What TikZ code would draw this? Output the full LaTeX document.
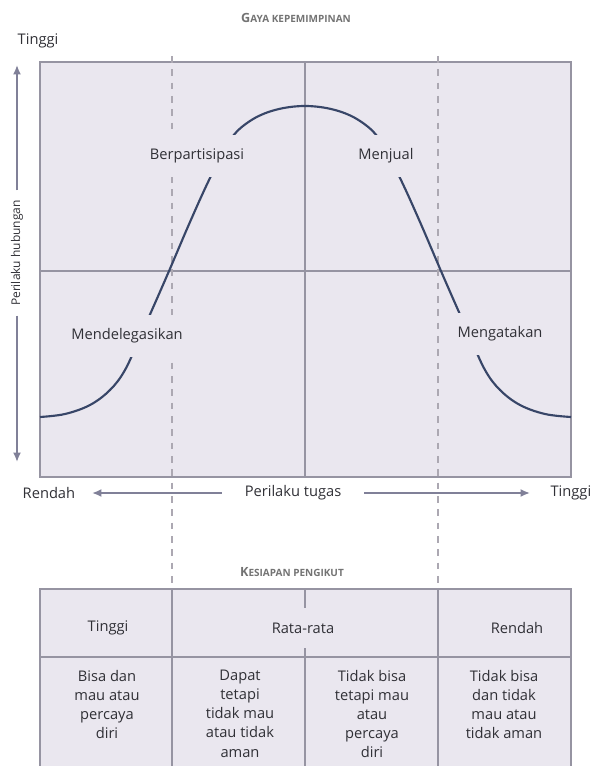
\documentclass[tikz,border=0pt]{standalone}
\usepackage{fontspec}
\setmainfont{Open Sans}
\usetikzlibrary{arrows.meta}
\definecolor{panelfill}{RGB}{234,231,239}
\definecolor{gridgray}{RGB}{150,148,162}
\definecolor{dashgray}{RGB}{172,168,178}
\definecolor{curveblue}{RGB}{56,70,104}
\definecolor{axisgray}{RGB}{128,128,152}
\definecolor{txtgray}{RGB}{48,48,54}

\begin{document}
\begin{tikzpicture}[x=0.75pt,y=-0.75pt,
  font=\fontsize{11}{14.3}\selectfont,text=txtgray,
  panel/.style={draw=gridgray,line width=1.1pt,fill=panelfill},
  grid/.style={draw=gridgray,line width=0.9pt},
  guide/.style={draw=dashgray,line width=1.1pt,dash pattern=on 5pt off 5pt},
  bell/.style={draw=curveblue,line width=1.6pt},
  arr/.style={-{Latex[length=7pt,width=6pt]},draw=axisgray,line width=1.5pt},
  stylelbl/.style={fill=panelfill,minimum height=31pt,inner xsep=1pt},
  cell/.style={align=center,anchor=north,inner sep=0pt},
  smcap/.style={font=\fontsize{9.5}{10}\selectfont\bfseries,text=gray!90!black}]
  \useasboundingbox (0,0) rectangle (593,766);
  %% upper panel
  \draw[panel] (40,62) rectangle (571,477);
  \draw[grid] (305,62) -- (305,477);
  \draw[grid] (40,271) -- (571,271);
  \draw[guide] (172,56) -- (172,589);
  \draw[guide] (438,56) -- (438,589);
  \draw[bell] plot[smooth,tension=0.6] coordinates {(40,417) (65,414) (90,405)
    (110,390) (125,370) (140,337) (166,278) (190,222) (210,178) (230,140)
    (250,121) (275,110) (305,106) (335,110) (360,121) (380,140) (400,178)
    (420,222) (444,278) (470,337) (485,370) (500,390) (520,405) (545,414)
    (571,417)};
  \node[stylelbl](par) at (197,156){Berpartisipasi};
  \node[stylelbl](sel) at (386,156){Menjual};
  \node[stylelbl](del) at (127,336){Mendelegasikan};
  \node[stylelbl](tel) at (500,334){Mengatakan};
  \node[smcap](gaya) at (296,18){G{\fontsize{7.5}{8}\selectfont AYA KEPEMIMPINAN}};
  %% axes
  \node(yhi) at (38,41){Tinggi};
  \node[rotate=90,font=\fontsize{9}{10}\selectfont,inner xsep=7pt](yname) at (17,253){Perilaku hubungan};
  \coordinate(ytop) at (17,65);
  \coordinate(ybot) at (17,462);
  \draw[arr](yname.east)--(ytop);
  \draw[arr](yname.west)--(ybot);
  \node[anchor=west](xlo) at (18,493){Rendah};
  \node[outer xsep=14pt](xname) at (293,493){Perilaku tugas};
  \node[anchor=west,inner xsep=1pt](xhi) at (549,493){Tinggi};
  \coordinate(xleft) at (92,493);
  \coordinate(xright) at (530,493);
  \draw[arr](xname.west)--(xleft);
  \draw[arr](xname.east)--(xright);
  %% readiness table
  \node[smcap](kes) at (292,572){K{\fontsize{7.5}{8}\selectfont ESIAPAN PENGIKUT}};
  \draw[panel] (40,589) rectangle (571,772);
  \draw[grid] (40,657) -- (571,657);
  \draw[grid] (172,589) -- (172,772);
  \draw[grid] (305,589) -- (305,772);
  \draw[grid] (438,589) -- (438,772);
  \node(thi) at (108,628){Tinggi};
  \node[fill=panelfill,minimum height=30pt](tavg) at (303,628){Rata-rata};
  \node(tlo) at (517,628){Rendah};
  \node[cell](c1) at (107,670){Bisa dan\\mau atau\\percaya\\diri};
  \node[cell](c2) at (240,670){Dapat\\tetapi\\tidak mau\\atau tidak\\aman};
  \node[cell](c3) at (372,670){Tidak bisa\\tetapi mau\\atau\\percaya\\diri};
  \node[cell](c4) at (504,670){Tidak bisa\\dan tidak\\mau atau\\tidak aman};
\end{tikzpicture}
\end{document}
